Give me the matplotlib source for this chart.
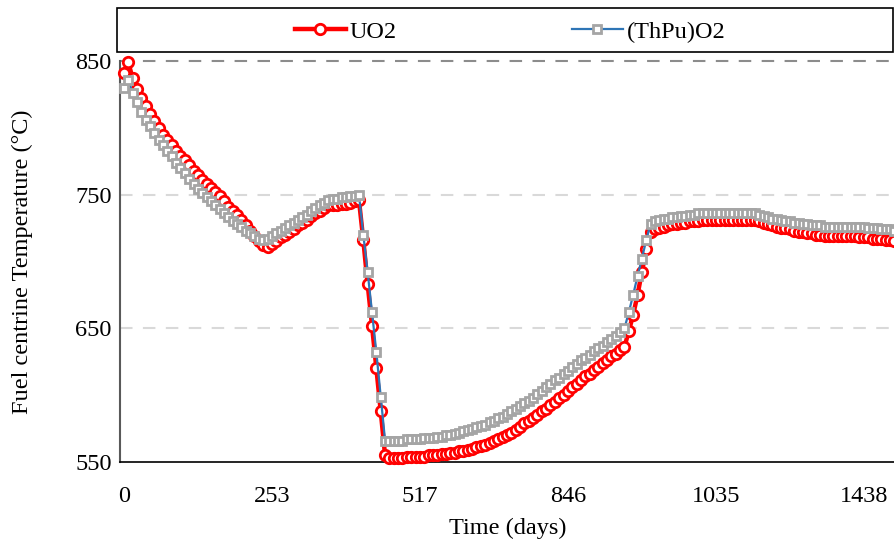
import matplotlib
matplotlib.use("Agg")
import matplotlib.pyplot as plt
import numpy as np
from matplotlib.patches import Rectangle

plt.rcParams['font.family'] = ['Liberation Serif', 'DejaVu Serif']

# --- Data (one value per category) ---
DAY_LABELS = ["0", "253", "517", "846", "1035", "1438"]
LABEL_STEP = 34  # categories between two labelled ticks

uo2 = [
    # cooling to first minimum
    841, 849, 837, 829, 822, 816, 810, 805, 800, 795, 791, 787, 783, 779, 776, 772,
    768, 765, 761, 758, 755, 752, 749, 745, 741, 738, 735, 731, 727, 723, 719, 715, 712,
    # slow rise
    711, 713, 715, 718, 720, 722, 724, 727, 729, 731, 734, 736, 738, 740, 742, 742,
    742, 743, 743, 744, 745, 746,
    # drop
    716, 683, 652, 620, 588, 555,
    # bottom and recovery
    553, 553, 553, 553, 554, 554, 554, 554, 554, 555, 555, 555, 556, 556, 557, 557,
    558, 558, 559, 560, 561, 562, 563, 564, 566, 567, 569, 570, 572, 574, 576, 579,
    581, 583, 585, 588, 590, 593, 595, 598, 600, 603, 606, 608, 611, 614, 616, 619,
    621, 624, 626, 629, 631, 634, 636,
    # jump
    648, 660, 675, 692, 709, 722, 724, 725,
    # plateau
    726, 727, 728, 728, 729, 729, 730, 730, 730, 731, 731, 731, 731, 731, 731, 731,
    731, 731, 731, 731, 731, 731, 730, 729, 728, 727, 726, 725, 725, 724, 723, 722,
    722, 721, 721, 720, 720, 719, 719, 719, 719, 719, 719, 719, 719, 718, 718, 718,
    717, 717, 717, 716, 716, 715,
]

thpu = [
    830, 836, 826, 819, 812, 806, 801, 796, 791, 787, 783, 779, 774, 770, 766, 762,
    758, 754, 751, 748, 745, 742, 739, 736, 733, 730, 728, 726, 723, 721, 719, 717, 716,
    717, 719, 721, 723, 725, 727, 729, 731, 733, 735, 738, 740, 742, 744, 746, 747,
    747, 748, 748, 749, 749, 750,
    720, 692, 662, 632, 599, 566,
    566, 566, 566, 566, 567, 567, 567, 567, 568, 568, 568, 569, 569, 570, 570, 571,
    572, 573, 574, 575, 576, 577, 578, 580, 581, 583, 584, 586, 588, 590, 592, 594,
    596, 598, 601, 603, 606, 608, 611, 613, 616, 618, 621, 623, 626, 628, 630, 633,
    635, 637, 640, 642, 644, 647, 650,
    662, 675, 689, 702, 716, 728, 730, 731,
    732, 732, 733, 733, 734, 734, 735, 735, 736, 736, 736, 736, 736, 736, 736, 736,
    736, 736, 736, 736, 736, 736, 735, 734, 733, 732, 732, 731, 730, 730, 729, 729,
    728, 728, 727, 727, 727, 726, 726, 726, 726, 726, 726, 726, 726, 726, 726, 725,
    725, 725, 724, 724, 724, 723,
]

x = np.arange(len(uo2))
FS = 17.5

fig = plt.figure(figsize=(8.95, 5.45), dpi=100)
ax = fig.add_axes([120 / 895, 83 / 545, 1 - 120 / 895, 401 / 545])

ax.plot(x, uo2, color='#ff0000', lw=3.2, marker='o', ms=7.5, mfc='white',
        mec='#ff0000', mew=2, clip_on=False, zorder=3, label='UO2')
ax.plot(x, thpu, color='#2e75b6', lw=1.6, marker='s', ms=6.3, mfc='white',
        mec='#a5a5a5', mew=2, clip_on=False, zorder=4, label='(ThPu)O2')

ax.set_ylim(550, 850)
ax.set_xlim(-0.9, (895 - 124) / 4.352)
ax.set_yticks([550, 650, 750, 850])
ticks = np.arange(len(DAY_LABELS)) * LABEL_STEP
ax.set_xticks(ticks)
ax.set_xticklabels(DAY_LABELS)

for yv in [650, 750]:
    ax.axhline(yv, color='#d9d9d9', lw=1.5, ls=(0, (6, 5)), zorder=1)
ax.axhline(850, color='#8c8c8c', lw=1.5, ls=(0, (6, 5)), zorder=1, clip_on=False)

for s in ['top', 'right']:
    ax.spines[s].set_visible(False)
ax.spines['left'].set_color('#595959')
ax.spines['left'].set_linewidth(1.5)
ax.spines['bottom'].set_color('black')
ax.spines['bottom'].set_linewidth(1.2)

ax.tick_params(axis='x', length=0, pad=17, labelsize=FS)
ax.tick_params(axis='y', length=0, pad=6, labelsize=FS)

ax.set_xlabel('Time (days)', fontsize=FS, labelpad=8)
ax.set_ylabel('Fuel centrine Temperature (°C)', fontsize=FS, labelpad=30)

# legend box across the top
fig.patches.append(Rectangle((117 / 895, 1 - 52 / 545), 776 / 895, 44 / 545,
                             transform=fig.transFigure, fill=False,
                             edgecolor='black', lw=1.2))
fig.legend(loc='center', bbox_to_anchor=(510 / 895, 1 - 32 / 545), ncol=2,
           frameon=False, fontsize=FS, handlelength=2.1, columnspacing=7.2,
           handletextpad=0.15)

plt.savefig('out.png', dpi=100)
